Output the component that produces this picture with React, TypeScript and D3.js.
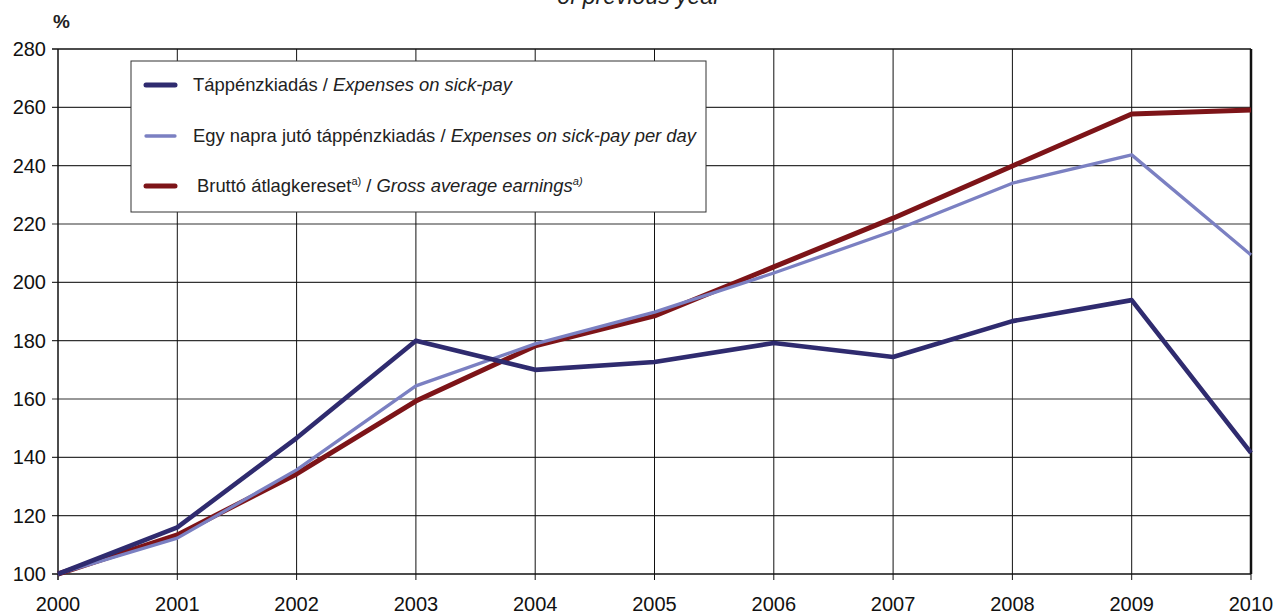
import React from "react";
import * as d3 from "d3";

const years = [2000, 2001, 2002, 2003, 2004, 2005, 2006, 2007, 2008, 2009, 2010];
const sickPay = [100, 116, 146.6, 180, 170, 172.7, 179.2, 174.4, 186.7, 193.9, 141.5];
const sickPayPerDay = [100, 112.3, 135.7, 164.5, 178.9, 189.8, 203.2, 217.6, 234, 243.7, 209.4];
const grossEarnings = [100, 113.4, 134.3, 159.3, 178.2, 188.5, 205.3, 222, 239.9, 257.7, 259.1];
const yTicks = [100, 120, 140, 160, 180, 200, 220, 240, 260, 280];

const W = 1274;
const H = 612;
const FONT = "Arial, 'Liberation Sans', Helvetica, sans-serif";

export default function App() {
  const x = d3.scaleLinear().domain([2000, 2010]).range([58, 1251]);
  const y = d3.scaleLinear().domain([100, 280]).range([574, 49]);
  const line = (vals: number[]) =>
    d3.line<number>().x((_, i) => x(years[i])).y((v) => y(v))(vals) || "";

  const series = [
    { vals: grossEarnings, color: "#7d1418", width: 5 },
    { vals: sickPayPerDay, color: "#7b80c2", width: 3.3 },
    { vals: sickPay, color: "#2f2b6f", width: 4.6 },
  ];

  const legendX = 131, legendY = 61, legendW = 575, legendH = 151;
  const legendRows = [
    { y: 85, color: "#2f2b6f", width: 5, hu: "Táppénzkiadás", en: "Expenses on sick-pay", sup: false, dx: 0 },
    { y: 136, color: "#7b80c2", width: 3.3, hu: "Egy napra jutó táppénzkiadás", en: "Expenses on sick-pay per day", sup: false, dx: 0 },
    { y: 186, color: "#7d1418", width: 5, hu: "Bruttó átlagkereset", en: "Gross average earnings", sup: true, dx: 4 },
  ];

  return (
    <svg width={W} height={H} style={{ position: "absolute", left: 0, top: 0, background: "#fff" }} fontFamily={FONT}>
      <rect x={0} y={0} width={W} height={H} fill="#fff" />
      <text x={639} y={4} fontSize={23} fontStyle="italic" textAnchor="middle" fill="#222">of previous year</text>
      <text x={53} y={28} fontSize={19} fontWeight="bold" fill="#222">%</text>

      {/* horizontal grid */}
      {yTicks.map((t) => (
        <g key={"h" + t}>
          <line x1={52} x2={1251} y1={y(t)} y2={y(t)} stroke={t === 100 || t === 280 ? "#111" : "#333"} strokeWidth={t === 100 || t === 280 ? 1.5 : 1.2} />
          <text x={46} y={y(t) + 7} fontSize={20} textAnchor="end" fill="#111">{t}</text>
        </g>
      ))}
      {/* vertical grid */}
      {years.map((yr) => (
        <g key={"v" + yr}>
          <line x1={x(yr)} x2={x(yr)} y1={y(280)} y2={580} stroke="#111" strokeWidth={yr === 2000 ? 1.5 : 1} />
          <text x={x(yr)} y={611} fontSize={20} textAnchor="middle" fill="#111">{yr}</text>
        </g>
      ))}
      <line x1={1251} x2={1251} y1={y(280)} y2={574} stroke="#111" strokeWidth={2.5} />

      {/* legend */}
      <rect x={legendX} y={legendY} width={legendW} height={legendH} fill="#fff" stroke="#333" strokeWidth={1} />
      {legendRows.map((r, i) => (
        <g key={"l" + i}>
          <line x1={146} x2={175} y1={r.y} y2={r.y} stroke={r.color} strokeWidth={r.width} strokeLinecap="round" />
          <text x={193 + r.dx} y={r.y + 6} fontSize={18.4} fill="#222">
            {r.hu}
            {r.sup && <tspan fontSize={11} dy={-7}>a)</tspan>}
            <tspan dy={r.sup ? 7 : 0}> / </tspan>
            <tspan fontStyle="italic">{r.en}</tspan>
            {r.sup && <tspan fontSize={11} fontStyle="italic" dy={-7}>a)</tspan>}
          </text>
        </g>
      ))}

      {/* series */}
      {series.map((s, i) => (
        <path key={"s" + i} d={line(s.vals)} fill="none" stroke={s.color} strokeWidth={s.width} strokeLinejoin="round" />
      ))}
    </svg>
  );
}
